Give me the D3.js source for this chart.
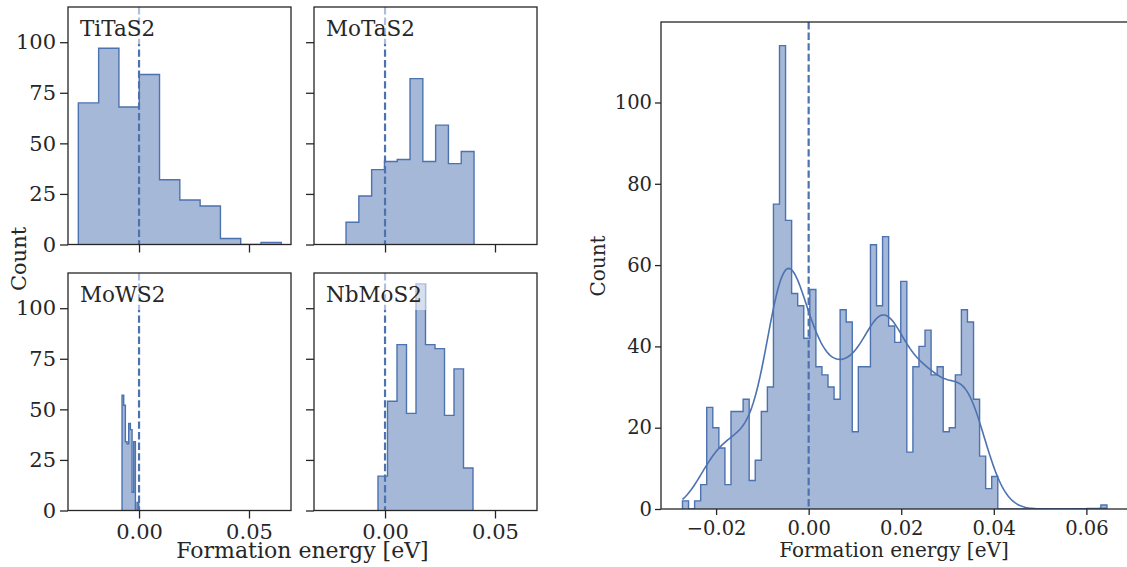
<!DOCTYPE html>
<html>
<head>
<meta charset="utf-8">
<script src="https://cdn.jsdelivr.net/npm/d3@7"></script>
<style>
body { margin: 0; background: #fff; }
text { font-family: "DejaVu Serif", serif; fill: #262626; }
</style>
</head>
<body>
<svg id="fig" width="1127" height="567"></svg>
<script>
// ***************** DATA ********************
var panelNames = ["TiTaS2", "MoTaS2", "MoWS2", "NbMoS2"];
var binStarts = [-0.0276, -0.01773, -0.00773, -0.0032];
var binWidths = [0.00923, 0.00582, 0.00076, 0.00432];
var tiTaCounts = [70, 97, 68, 84, 32, 22, 19, 3, 0, 1];
var moTaCounts = [11, 24, 37, 41, 42, 82, 41, 59, 40, 46];
var moWCounts = [57, 52, 34, 33, 43, 40, 9, 34, 0, 4];
var nbMoCounts = [17, 54, 82, 48, 112, 82, 80, 47, 70, 21];
var panelCounts = [tiTaCounts, moTaCounts, moWCounts, nbMoCounts];

var allStart = -0.02726;
var allWidth = 0.00131;
var allCounts = [2, 0, 2, 6, 25, 20, 15, 6, 24, 24,
	27, 7, 12, 24, 30, 75, 114, 71, 53, 50,
	42, 54, 35, 33, 30, 27, 49, 46, 19, 35,
	35, 65, 50, 67, 45, 41, 56, 14, 35, 40,
	44, 33, 35, 19, 20, 33, 49, 46, 27, 13,
	5, 8, 0, 0, 0, 0, 0, 0, 0, 0,
	0, 0, 0, 0, 0, 0, 0, 0, 0, 1];

var smallXTicks = [0, 0.05];
var smallYTicks = [0, 25, 50, 75, 100];
var bigXTicks = [-0.02, 0, 0.02, 0.04, 0.06];
var bigYTicks = [0, 20, 40, 60, 80, 100];
var xLabel = "Formation energy [eV]";
var yLabel = "Count";

var blue = "#4c72b0";
var fillBlue = "#a5b8d7";
var spineColor = "#262626";

var svg = d3.select("#fig");

// ************************ HELPERS *************************
var stepPath = function(counts, start, w, x, y) {
	var p = d3.path();
	p.moveTo(x(start), y(0));
	counts.forEach(function(c, i) {
		p.lineTo(x(start + i * w), y(c));
		p.lineTo(x(start + (i + 1) * w), y(c));
	});
	p.lineTo(x(start + counts.length * w), y(0));
	return p.toString();
};

var clipId = 0;
var makePanel = function(left, top, width, height, xDom, yDom) {
	var x = d3.scaleLinear().domain(xDom).range([left, left + width]);
	var y = d3.scaleLinear().domain(yDom).range([top + height, top]);
	var id = "clip" + (clipId++);
	svg.append("clipPath").attr("id", id)
		.append("rect")
		.attr("x", left).attr("y", top)
		.attr("width", width).attr("height", height);
	var g = svg.append("g").attr("clip-path", "url(#" + id + ")");
	return {x: x, y: y, g: g, left: left, top: top, width: width, height: height};
};

var drawHist = function(p, counts, start, w) {
	var d = stepPath(counts, start, w, p.x, p.y);
	p.g.append("path").attr("d", d + "Z")
		.attr("fill", fillBlue).attr("stroke", "none");
	p.g.append("path").attr("d", d)
		.attr("fill", "none").attr("stroke", blue)
		.attr("stroke-width", 1.4).attr("stroke-linejoin", "miter");
};

var drawZeroLine = function(p) {
	p.g.append("line")
		.attr("x1", p.x(0)).attr("x2", p.x(0))
		.attr("y1", p.top).attr("y2", p.top + p.height)
		.attr("stroke", blue).attr("stroke-width", 2.2)
		.attr("stroke-dasharray", "7.4,3.2");
};

var drawAxes = function(p, opts) {
	var xAxis = d3.axisBottom(p.x).tickValues(opts.xTicks)
		.tickSize(opts.tickSize).tickPadding(opts.xPad)
		.tickFormat(opts.xLabels ? d3.format(".2f") : "");
	var yAxis = d3.axisLeft(p.y).tickValues(opts.yTicks)
		.tickSize(opts.tickSize).tickPadding(opts.yPad)
		.tickFormat(opts.yLabels ? d3.format("d") : "");
	var gx = svg.append("g")
		.attr("transform", "translate(0," + (p.top + p.height) + ")")
		.call(xAxis);
	var gy = svg.append("g")
		.attr("transform", "translate(" + p.left + ",0)")
		.call(yAxis);
	[gx, gy].forEach(function(a) {
		a.select(".domain").remove();
		a.selectAll("line").attr("stroke", spineColor).attr("stroke-width", 1.3);
		a.selectAll("text").attr("font-size", opts.fontSize + "px")
			.attr("fill", "#262626").style("font-family", '"DejaVu Serif", serif');
	});
	// spines
	svg.append("rect")
		.attr("x", p.left).attr("y", p.top)
		.attr("width", p.width).attr("height", p.height)
		.attr("fill", "none").attr("stroke", spineColor).attr("stroke-width", 1.3);
};

// ************************ SMALL PANELS *************************
var smallLefts = [68, 314];
var smallTops = [7, 273];
var smallW = 223, smallH = 237.5;
var smallXDom = [-0.0323, 0.0691];
var smallYDom = [0, 117.4];

panelNames.forEach(function(name, i) {
	var col = i % 2, row = Math.floor(i / 2);
	var p = makePanel(smallLefts[col], smallTops[row], smallW, smallH, smallXDom, smallYDom);
	drawHist(p, panelCounts[i], binStarts[i], binWidths[i]);
	drawZeroLine(p);
	// label with half-transparent box, like matplotlib bbox
	var tx = p.left + 12, ty = p.top + 29;
	var label = p.g.append("text")
		.attr("x", tx).attr("y", ty)
		.attr("font-size", "21.5px")
		.text(name);
	var bb = label.node().getBBox();
	p.g.insert("rect", "text")
		.attr("x", bb.x - 4).attr("y", p.top)
		.attr("width", bb.width + 8).attr("height", ty + 8 - p.top)
		.attr("fill", "#fff").attr("fill-opacity", 0.55);
	drawAxes(p, {
		xTicks: smallXTicks, yTicks: smallYTicks,
		xLabels: row === 1, yLabels: col === 0,
		tickSize: 8, xPad: 6, yPad: 4, fontSize: 21
	});
});

svg.append("text")
	.attr("transform", "translate(26,259) rotate(-90)")
	.attr("text-anchor", "middle")
	.attr("font-size", "21px")
	.text(yLabel);
svg.append("text")
	.attr("x", 302.5).attr("y", 558)
	.attr("text-anchor", "middle")
	.attr("font-size", "22px")
	.text(xLabel);

// ************************ BIG PANEL *************************
var big = makePanel(661, 22, 467.5, 487, [-0.0319, 0.0691], [0, 119.8]);
drawHist(big, allCounts, allStart, allWidth);

// kde from the binned counts, scott bandwidth, scaled to counts
var centers = allCounts.map(function(c, i) { return allStart + (i + 0.5) * allWidth; });
var total = d3.sum(allCounts);
var mean = d3.sum(centers, function(c, i) { return c * allCounts[i]; }) / total;
var variance = d3.sum(centers, function(c, i) { return allCounts[i] * (c - mean) * (c - mean); }) / (total - 1);
var bw = Math.sqrt(variance) * Math.pow(total, -0.2);
var lo = allStart, hi = allStart + allCounts.length * allWidth;
var kdePts = d3.range(0, 301).map(function(k) {
	var xv = lo + (hi - lo) * k / 300;
	var dens = 0;
	centers.forEach(function(c, i) {
		var u = (xv - c) / bw;
		dens += allCounts[i] * Math.exp(-0.5 * u * u);
	});
	dens = dens / (bw * Math.sqrt(2 * Math.PI)) * allWidth;
	return [xv, dens];
});
big.g.append("path")
	.attr("d", d3.line().x(function(d) { return big.x(d[0]); }).y(function(d) { return big.y(d[1]); })(kdePts))
	.attr("fill", "none").attr("stroke", blue).attr("stroke-width", 1.6);
drawZeroLine(big);
drawAxes(big, {
	xTicks: bigXTicks, yTicks: bigYTicks,
	xLabels: true, yLabels: true,
	tickSize: 6, xPad: 6, yPad: 3, fontSize: 19.5
});

svg.append("text")
	.attr("transform", "translate(605,266) rotate(-90)")
	.attr("text-anchor", "middle")
	.attr("font-size", "20px")
	.text(yLabel);
svg.append("text")
	.attr("x", 894).attr("y", 557)
	.attr("text-anchor", "middle")
	.attr("font-size", "20px")
	.text(xLabel);
</script>
</body>
</html>
